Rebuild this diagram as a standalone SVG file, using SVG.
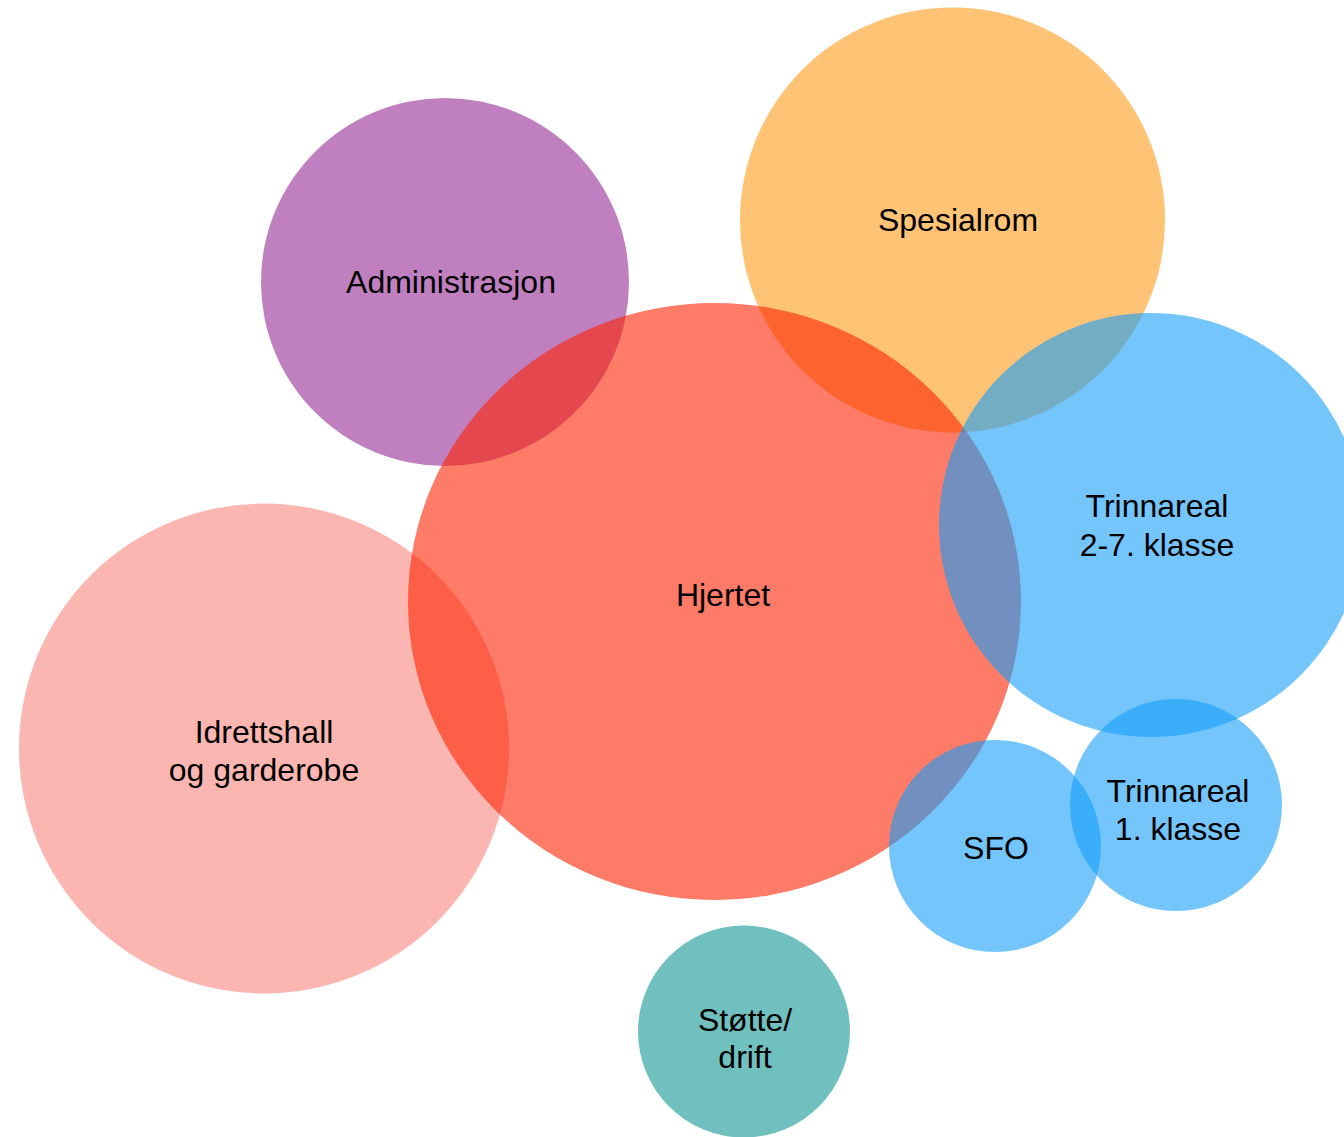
<svg xmlns="http://www.w3.org/2000/svg" width="1344" height="1137" viewBox="0 0 1344 1137">
<style>
.b{fill-opacity:0.6}
text{font-family:"Liberation Sans",Arial,sans-serif;font-size:32px;fill:#000;text-anchor:middle}
</style>
<rect width="1344" height="1137" fill="#fff"/>
<g id="connectors"/>
<g id="idrettshall"><circle class="b" cx="264" cy="748.5" r="245" fill="#fa857d"/></g>
<g id="administrasjon"><circle class="b" cx="445" cy="282" r="184" fill="#962b96"/></g>
<g id="spesialrom"><circle class="b" cx="952.5" cy="220" r="212.5" fill="#fd9b17"/></g>
<g id="hjertet"><ellipse class="b" cx="714.5" cy="601.5" rx="306.5" ry="298.5" fill="#fc2302"/></g>
<g id="trinnareal27"><circle class="b" cx="1151" cy="525" r="212" fill="#169efa"/></g>
<g id="sfo"><circle class="b" cx="995" cy="846" r="106" fill="#169efa"/></g>
<g id="trinnareal1"><circle class="b" cx="1176" cy="805" r="106" fill="#169efa"/></g>
<g id="stotte"><circle class="b" cx="744" cy="1031.5" r="106" fill="#119696"/></g>
<g id="labels">
<text x="451" y="293">Administrasjon</text>
<text x="958" y="231">Spesialrom</text>
<text x="723" y="606">Hjertet</text>
<text x="1157" y="517">Trinnareal</text>
<text x="1157" y="556">2-7. klasse</text>
<text x="264" y="743">Idrettshall</text>
<text x="264" y="781">og garderobe</text>
<text x="996" y="859">SFO</text>
<text x="1178" y="802">Trinnareal</text>
<text x="1178" y="840">1. klasse</text>
<text x="745" y="1031">Støtte/</text>
<text x="745" y="1068">drift</text>
</g>
</svg>
